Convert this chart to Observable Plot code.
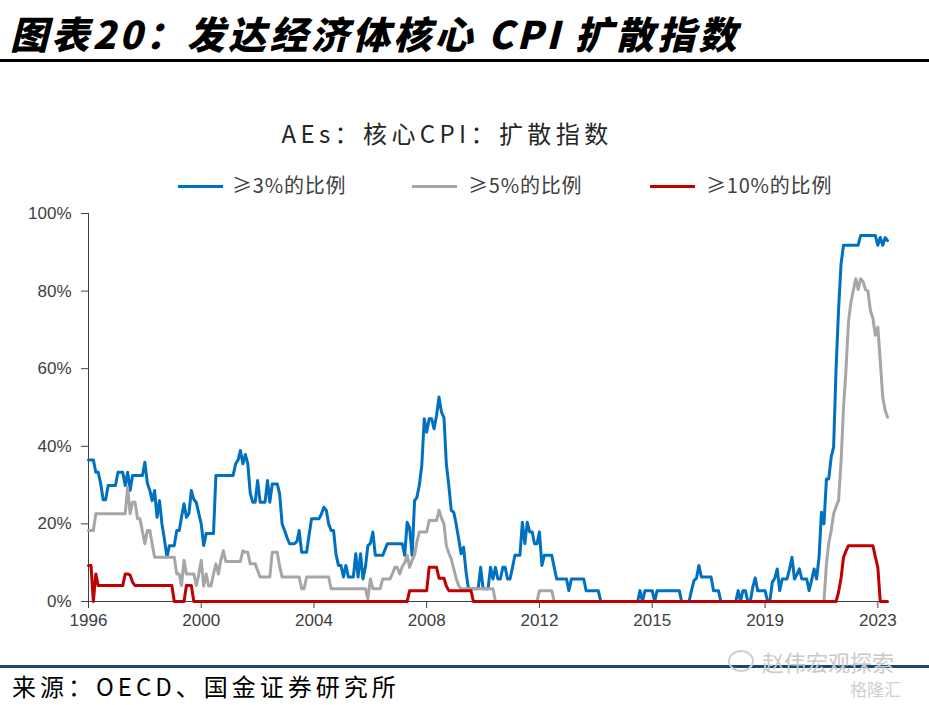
<!DOCTYPE html>
<html><head><meta charset="utf-8">
<script src="https://cdn.jsdelivr.net/npm/d3@7"></script>
<script src="https://cdn.jsdelivr.net/npm/@observablehq/plot@0.6"></script>
<style>
body{margin:0;background:#fff;}
#page{position:relative;width:929px;height:705px;overflow:hidden;background:#fff;font-family:"Noto Sans CJK SC",sans-serif;}
#hdr{position:absolute;left:10px;top:14px;font-size:38px;line-height:38px;font-weight:900;font-style:italic;color:#000;letter-spacing:3.3px;white-space:nowrap;}
#hdrline{position:absolute;left:0;top:59px;width:929px;height:3px;background:#000;}
#ctitle{position:absolute;left:0;width:894px;top:119px;text-align:center;font-size:24px;line-height:28px;color:#262626;letter-spacing:4.4px;white-space:nowrap;}
.lg-line{position:absolute;height:3px;top:185px;width:45px;}
.lg-text{position:absolute;top:173px;font-size:20px;line-height:24px;color:#404040;white-space:nowrap;letter-spacing:0.8px;}
#chart{position:absolute;left:0;top:200px;}
#srcline{position:absolute;left:0;top:665px;width:929px;height:3px;background:#174a6e;}
#src{position:absolute;left:12px;top:672px;font-size:24px;line-height:28px;color:#000;letter-spacing:4px;white-space:nowrap;}
#wm{position:absolute;left:762px;top:648px;font-size:22px;line-height:26px;color:#c9c9c9;white-space:nowrap;}
#wmicon{position:absolute;left:728px;top:650px;width:26px;height:22px;border:2px solid #d0d0d0;border-radius:50%;box-sizing:border-box;}
#wm2{position:absolute;left:850px;top:679px;font-size:17px;line-height:20px;color:#cfcfcf;white-space:nowrap;}
</style></head><body>
<div id="page">
  <div id="hdr">图表20：发达经济体核心 CPI 扩散指数</div>
  <div id="hdrline"></div>
  <div id="ctitle">AEs：核心CPI：扩散指数</div>
  <div id="legend"></div>
  <div id="chart"></div>
  <div id="srcline"></div>
  <div id="src">来源：OECD、国金证券研究所</div>
  <div id="wmicon"></div>
  <div id="wm">赵伟宏观探索</div>
  <div id="wm2">格隆汇</div>
</div>
<script>
// ---- data ----
const seriesNames = ["≥3%的比例", "≥5%的比例", "≥10%的比例"];
const seriesColors = ["#0070C0", "#A6A6A6", "#C00000"];
const startYear = 1996; // monthly data, first month = Jan 1996
const tickLabels = ["1996", "2000", "2004", "2008", "2012", "2015", "2019", "2023"];
const tickMonths = ["1996-01", "1999-11", "2003-09", "2007-07", "2011-05", "2015-03", "2019-01", "2022-11"];
const yTicks = [0, 20, 40, 60, 80, 100];

// share of economies with core CPI >= 3% (%)
const share3 = [
  36.5, 36.5, 36.5, 33.3, 33.3, 30.3, 26.2, 26.2, 29.9, 29.9, 29.9, 29.9,
  33.3, 33.3, 33.3, 29.9, 33.3, 28.6, 32.5, 32.5, 32.5, 32.5, 32.5, 35.9,
  30.5, 28.6, 26, 28.6, 21.7, 26, 20, 16, 11.4, 14.4, 14.4, 14.4,
  18.3, 18.3, 21.7, 25.2, 21.7, 22.7, 28.6, 26.3, 25.5, 22.7, 20, 14.4,
  17.5, 17.5, 17.5, 17.5, 32.5, 32.5, 32.5, 32.5, 32.5, 32.5, 32.5, 32.5,
  35.5, 36.5, 38.9, 35.5, 37.9, 35.5, 28, 25.6, 25.6, 31.2, 25.6, 25.6,
  25.6, 31.2, 25.6, 30.3, 30.3, 30.3, 27.8, 20, 18.3, 16.5, 14.9, 14.9,
  14.9, 15.5, 18.3, 12.7, 12.7, 12.7, 17, 21.3, 21.3, 21.3, 21.3, 22.5,
  24.3, 23.5, 20, 18.3, 18.3, 12, 9.3, 9.3, 6.3, 9.3, 6.3, 6.3,
  6.3, 12.3, 6.3, 12.3, 5.8, 9, 14.4, 15, 17.9, 11.9, 11.9, 11.9,
  11.9, 13.5, 14.9, 14.9, 14.9, 14.9, 14.9, 14.9, 14.9, 11.9, 20.4, 19,
  11.9, 26, 26.8, 30, 35, 47.1, 43.6, 47.1, 47.1, 44.5, 48, 52.7,
  48.8, 47.4, 35.5, 29.9, 23.5, 23, 20, 16.2, 12.3, 14, 7.6, 3.3,
  3.3, 3.3, 3.3, 3.3, 8.8, 3.3, 3.3, 3.3, 8.8, 5.8, 8.8, 5.8,
  5.8, 8.8, 8.8, 5.8, 5.8, 8.8, 11.9, 11.9, 11.9, 20.4, 14.9, 20.4,
  17.9, 17.9, 14.9, 14.9, 17.9, 9.3, 11.9, 11.9, 11.9, 11.9, 8.8, 5.8,
  5.8, 5.8, 5.8, 5.8, 2.8, 5.8, 5.8, 5.8, 5.8, 5.8, 5.8, 2.8,
  2.8, 2.8, 2.8, 2.8, 2.8, 0, 0, 0, 0, 0, 0, 0,
  0, 0, 0, 0, 0, 0, 0, 0, 0, 2.8, 0, 2.8,
  2.8, 2.8, 2.8, 0, 2.8, 2.8, 2.8, 2.8, 2.8, 2.8, 2.8, 2.8,
  2.8, 2.8, 0, 0, 0, 0, 2.8, 5.4, 6, 9.3, 6.3, 6.3,
  6.3, 6.3, 6.3, 2.8, 2.8, 2.8, 0, 0, 0, 0, 0, 0,
  0, 2.8, 0, 2.8, 2.8, 0, 0, 3.7, 6.1, 2.8, 2.8, 2.8,
  2.8, 0, 0, 5, 6, 8.4, 2.8, 5.8, 5.8, 5.8, 8.4, 11.4,
  5.8, 7, 8.4, 5.8, 5.8, 5.8, 2.8, 5.5, 8.4, 5.8, 11.4, 23,
  20, 31.6, 31.6, 37.2, 39.8, 60.4, 75, 87, 91.8, 91.8, 91.8, 91.8,
  91.8, 91.8, 91.8, 94.3, 94.3, 94.3, 94.3, 94.3, 94.3, 94.3, 91.8, 93.8,
  91.8, 93.8, 93
];

// share of economies with core CPI >= 5% (%)
const share5 = [
  18.3, 18.3, 18.3, 22.6, 22.6, 22.6, 22.6, 22.6, 22.6, 22.6, 22.6, 22.6,
  22.6, 22.6, 22.6, 22.6, 29.5, 22.6, 25.6, 25.6, 21.3, 21.3, 18, 14.9,
  18.3, 18.3, 14.9, 11.4, 11.4, 11.4, 11.4, 11.4, 11.4, 11.4, 11.4, 11.4,
  7.1, 7.1, 4.1, 10.6, 7.1, 7.1, 7.1, 7.1, 4.1, 7, 10.6, 4,
  7.1, 4, 4, 7.1, 9.7, 7.1, 10.6, 13.1, 10.3, 10.3, 10.3, 10.3,
  10.3, 10.3, 10.3, 13.1, 12.7, 12.7, 9.7, 9.7, 9.7, 8, 6.3, 6.3,
  6.3, 6.3, 6.3, 12.7, 12.7, 12.7, 9.1, 6.3, 6.3, 6.3, 6.3, 6.3,
  6.3, 6.3, 6.3, 3.3, 3.3, 6.3, 6.3, 6.3, 6.3, 6.3, 6.3, 6.3,
  6.3, 6.3, 6.3, 3.3, 3.3, 3.3, 3.3, 3.3, 3.3, 3.3, 3.3, 3.3,
  3.3, 3.3, 3.3, 3.3, 3.3, 3.3, 0.7, 5.8, 3.3, 3.3, 3.3, 3.3,
  5.8, 5.8, 5.8, 5.8, 7.1, 8.8, 8.8, 7.1, 9, 10, 11.9, 8.8,
  10.6, 12, 15.3, 17.9, 17.9, 17.9, 17.9, 20.9, 20.9, 20.9, 20.9, 23.5,
  21.5, 20, 14.4, 12.5, 11, 8.4, 6, 4.1, 3.3, 3.3, 3.3, 3.3,
  3.3, 3.3, 3.3, 3.3, 3.3, 3.3, 3.3, 3.3, 3.3, 3.3, 0, 0,
  0, 0, 0, 0, 0, 0, 0, 0, 0, 0, 0, 0,
  0, 0, 0, 0, 2.8, 2.8, 2.8, 2.8, 2.8, 2.8, 0, 0,
  0, 0, 0, 0, 0, 0, 0, 0, 0, 0, 0, 0,
  0, 0, 0, 0, 0, 0, 0, 0, 0, 0, 0, 0,
  0, 0, 0, 0, 0, 0, 0, 0, 0, 0, 0, 0,
  0, 0, 0, 0, 0, 0, 0, 0, 0, 0, 0, 0,
  0, 0, 0, 0, 0, 0, 0, 0, 0, 0, 0, 0,
  0, 0, 0, 0, 0, 0, 0, 0, 0, 0, 0, 0,
  0, 0, 0, 0, 0, 0, 0, 0, 0, 0, 0, 0,
  0, 0, 0, 0, 0, 0, 0, 0, 0, 0, 0, 0,
  0, 0, 0, 0, 0, 0, 0, 0, 0, 0, 0, 0,
  0, 9.7, 15, 18.3, 22.6, 24.5, 26, 36, 50, 59.5, 72, 77,
  80.2, 83.2, 80.4, 83.2, 82.5, 80.4, 80, 75, 73, 68.6, 70.7, 62,
  52.7, 49.2, 47.5
];

// share of economies with core CPI >= 10% (%)
const share10 = [
  9.3, 9.3, 0, 7.1, 4.1, 4.1, 4.1, 4.1, 4.1, 4.1, 4.1, 4.1,
  4.1, 4.1, 4.1, 7.1, 7.1, 6.8, 5, 4.1, 4.1, 4.1, 4.1, 4.1,
  4.1, 4.1, 4.1, 4.1, 4.1, 4.1, 4.1, 4.1, 4.1, 4.1, 4.1, 0,
  0, 0, 0, 0, 4.1, 4.1, 4.1, 0, 0, 0, 0, 0,
  0, 0, 0, 0, 0, 0, 0, 0, 0, 0, 0, 0,
  0, 0, 0, 0, 0, 0, 0, 0, 0, 0, 0, 0,
  0, 0, 0, 0, 0, 0, 0, 0, 0, 0, 0, 0,
  0, 0, 0, 0, 0, 0, 0, 0, 0, 0, 0, 0,
  0, 0, 0, 0, 0, 0, 0, 0, 0, 0, 0, 0,
  0, 0, 0, 0, 0, 0, 0, 0, 0, 0, 0, 0,
  0, 0, 0, 0, 0, 0, 0, 0, 0, 0, 0, 2.8,
  2.8, 2.8, 2.8, 2.8, 2.8, 2.8, 2.8, 8.8, 8.8, 8.8, 8.8, 6,
  6, 6, 4, 2.8, 2.8, 2.8, 2.8, 2.8, 2.8, 2.8, 2.8, 2.8,
  2.8, 0, 0, 0, 0, 0, 0, 0, 0, 0, 0, 0,
  0, 0, 0, 0, 0, 0, 0, 0, 0, 0, 0, 0,
  0, 0, 0, 0, 0, 0, 0, 0, 0, 0, 0, 0,
  0, 0, 0, 0, 0, 0, 0, 0, 0, 0, 0, 0,
  0, 0, 0, 0, 0, 0, 0, 0, 0, 0, 0, 0,
  0, 0, 0, 0, 0, 0, 0, 0, 0, 0, 0, 0,
  0, 0, 0, 0, 0, 0, 0, 0, 0, 0, 0, 0,
  0, 0, 0, 0, 0, 0, 0, 0, 0, 0, 0, 0,
  0, 0, 0, 0, 0, 0, 0, 0, 0, 0, 0, 0,
  0, 0, 0, 0, 0, 0, 0, 0, 0, 0, 0, 0,
  0, 0, 0, 0, 0, 0, 0, 0, 0, 0, 0, 0,
  0, 0, 0, 0, 0, 0, 0, 0, 0, 0, 0, 0,
  0, 0, 0, 0, 0, 0, 2.4, 6, 11.4, 13, 14.4, 14.4,
  14.4, 14.4, 14.4, 14.4, 14.4, 14.4, 14.4, 14.4, 14.4, 11.5, 8.8, 0,
  0, 0, 0
];

// ---- build ----
const monthDate = i => new Date(Date.UTC(startYear, i, 1));
const parseMonth = s => { const [y, m] = s.split("-").map(Number); return new Date(Date.UTC(y, m - 1, 1)); };
const tickDates = tickMonths.map(parseMonth);
const tickMap = new Map(tickDates.map((d, i) => [+d, tickLabels[i]]));

const rows = [];
[share3, share5, share10].forEach((arr, s) =>
  arr.forEach((v, i) => rows.push({date: monthDate(i), value: v, series: seriesNames[s]})));

const nMonths = share3.length;

// legend
const legendLayout = [{line: 178, text: 232}, {line: 412, text: 468}, {line: 650, text: 706}];
const legend = document.getElementById("legend");
seriesNames.forEach((name, i) => {
  const ln = document.createElement("div");
  ln.className = "lg-line";
  ln.style.left = legendLayout[i].line + "px";
  ln.style.background = seriesColors[i];
  legend.appendChild(ln);
  const tx = document.createElement("div");
  tx.className = "lg-text";
  tx.style.left = legendLayout[i].text + "px";
  tx.textContent = name;
  legend.appendChild(tx);
});

const chart = Plot.plot({
  width: 929,
  height: 440,
  marginTop: 13,
  marginBottom: 39,
  marginLeft: 88,
  marginRight: 42,
  style: {fontFamily: "'Liberation Sans', Arial, sans-serif", fontSize: "17px", color: "#404040", background: "transparent", overflow: "visible"},
  x: {type: "utc", domain: [monthDate(0), monthDate(nMonths - 1)], label: null},
  y: {domain: [0, 100], label: null},
  color: {domain: seriesNames, range: seriesColors},
  marks: [
    Plot.axisY({ticks: yTicks, tickFormat: d => d + "%", tickSize: 7, tickPadding: 10, fontSize: 17, label: null, stroke: "#404040"}),
    Plot.axisX({ticks: tickDates, tickFormat: d => tickMap.get(+d), tickSize: 7, tickPadding: 5, fontSize: 17, label: null, stroke: "#404040"}),
    Plot.ruleX([monthDate(0)], {y1: 0, y2: 100, stroke: "#404040", strokeWidth: 1}),
    Plot.ruleY([0], {stroke: "#404040", strokeWidth: 1}),
    Plot.line(rows, {x: "date", y: "value", z: "series", stroke: "series", strokeWidth: 3, curve: "linear"})
  ]
});
document.getElementById("chart").appendChild(chart);
</script>
</body></html>
